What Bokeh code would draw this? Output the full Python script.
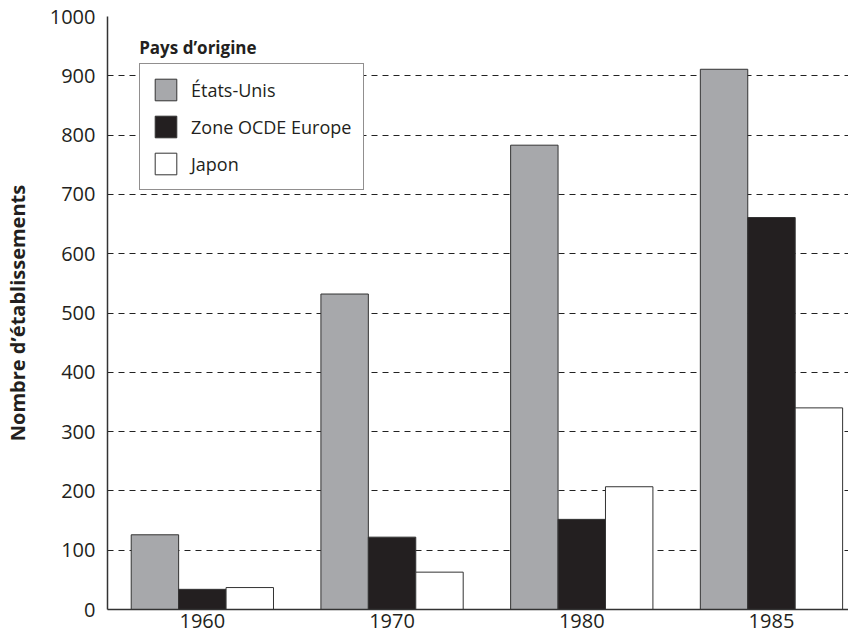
from bokeh.plotting import figure
from bokeh.models import ColumnDataSource, Range1d, FixedTicker, Legend, LegendItem, Label
from bokeh.transform import dodge
from bokeh.embed import file_html
from bokeh.resources import INLINE

years = ["1960", "1970", "1980", "1985"]
etats_unis = [126, 532, 783, 911]
europe = [34, 122, 152, 661]
japon = [37, 63, 207, 340]
series_names = ["États-Unis", "Zone OCDE Europe", "Japon"]
colors = ["#a7a8ab", "#231f20", "#ffffff"]
yticks = list(range(0, 1001, 100))

pos = list(range(len(years)))
src = ColumnDataSource(dict(x=pos, us=etats_unis, eu=europe, jp=japon))

FONT = "Open Sans"
p = figure(width=848, height=636, output_backend="svg", toolbar_location=None,
           x_range=Range1d(-0.5, 3.406), y_range=Range1d(0, 1000),
           min_border_top=16, min_border_right=0, min_border_left=98, min_border_bottom=27)
p.outline_line_color = None
p.background_fill_color = "white"

renderers = []
for col, off, c in zip(["us", "eu", "jp"], [-0.25, 0.0, 0.25], colors):
    r = p.vbar(x=dodge("x", off, range=p.x_range), top=col, width=0.25, source=src,
               fill_color=c, line_color="#333333", line_width=1)
    renderers.append(r)

p.xgrid.grid_line_color = None
p.ygrid.grid_line_color = "#222222"
p.ygrid.grid_line_dash = "6 5"
p.ygrid.grid_line_width = 1
p.yaxis.ticker = FixedTicker(ticks=yticks)
p.xaxis.ticker = FixedTicker(ticks=pos)
p.xaxis.major_label_overrides = {i: y for i, y in enumerate(years)}

for ax in (p.xaxis[0], p.yaxis[0]):
    ax.major_tick_line_color = None
    ax.minor_tick_line_color = None
    ax.major_tick_out = 0
    ax.major_tick_in = 0
    ax.axis_line_color = "#333333"
    ax.axis_line_width = 1.5
    ax.major_label_text_font = FONT
    ax.major_label_text_font_size = "20px"
    ax.major_label_text_color = "#231f20"

p.yaxis.major_label_standoff = 12
p.xaxis.major_label_standoff = 4
p.yaxis.axis_label = "Nombre d’établissements"
p.yaxis.axis_label_text_font = FONT
p.yaxis.axis_label_text_font_size = "20px"
p.yaxis.axis_label_text_font_style = "bold"
p.yaxis.axis_label_text_color = "#231f20"
p.yaxis.axis_label_standoff = 16

legend = Legend(items=[LegendItem(label=n, renderers=[r]) for n, r in zip(series_names, renderers)],
                location=(32, 419), orientation="vertical",
                glyph_width=27, glyph_height=27, spacing=10, padding=12, margin=0,
                label_standoff=12, label_text_font=FONT, label_text_font_size="18px",
                label_text_color="#231f20", label_text_baseline="middle",
                border_line_color="#231f20", border_line_width=1,
                background_fill_color="white", background_fill_alpha=1)
p.add_layout(legend, "center")

title = Label(x=-0.333, y=948, text="Pays d’origine", text_font=FONT, text_font_size="17px",
              text_font_style="bold", text_color="#231f20", text_baseline="middle",
              background_fill_color="white")
p.add_layout(title)

open("out.html", "w").write(file_html(p, INLINE))
